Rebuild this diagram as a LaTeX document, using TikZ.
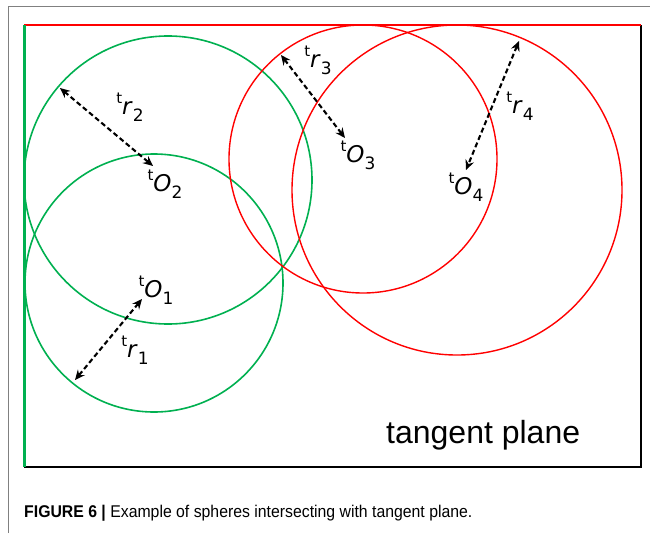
\documentclass[tikz,border=0pt]{standalone}
\usepackage{fontspec}
\usetikzlibrary{arrows.meta}
\newfontfamily\sansfont{Liberation Sans}
\newfontfamily\labelfont{DejaVu Sans}
\newcommand\tlab[2]{\raisebox{0.5em}{\fontsize{15}{15}\selectfont t}\textit{#1}\raisebox{-0.28em}{\fontsize{17}{17}\selectfont #2}}
\definecolor{spheregreen}{RGB}{0,176,80}
\definecolor{framegray}{RGB}{128,128,128}
\begin{document}
\begin{tikzpicture}[x=1pt, y=-1pt, >={Stealth[length=10pt, width=9pt, inset=3.5pt]},
		greensphere/.style={draw=spheregreen, line width=1.6pt},
		redsphere/.style={draw=red, line width=1.4pt},
		rarrow/.style={<->, dash pattern=on 5pt off 3pt, line width=2.1pt},
		lbl/.style={font=\labelfont\fontsize{23}{26}\selectfont}]
	\useasboundingbox (0,0) rectangle (650,533);
	% page frame
	\draw[framegray, line width=1pt] (8,533) -- (8,6) -- (650,6);
	% tangent plane
	\draw[black, line width=2.2pt] (24,467) -- (641,467) -- (641,25);
	\draw[red, line width=2pt] (24,25) -- (641,25);
	\draw[spheregreen, line width=3pt] (24,25) -- (24,467);
	% sphere centres
	\coordinate (O1) at (154,283);
	\coordinate (O2) at (168,180);
	\coordinate (O3) at (363,159);
	\coordinate (O4) at (457,190);
	\draw[greensphere] (O1) circle (129);
	\draw[greensphere] (O2) circle (144);
	\draw[redsphere] (O3) circle (134);
	\draw[redsphere] (O4) circle (165);
	% radii
	\coordinate (r1a) at (142,299);
	\coordinate (r1b) at (75,380);
	\coordinate (r2a) at (60,88);
	\coordinate (r2b) at (153,166);
	\coordinate (r3a) at (281,55);
	\coordinate (r3b) at (345,138);
	\coordinate (r4a) at (519,41);
	\coordinate (r4b) at (466,170);
	\draw[rarrow] (r1a) -- (r1b);
	\draw[rarrow] (r2a) -- (r2b);
	\draw[rarrow] (r3a) -- (r3b);
	\draw[rarrow] (r4a) -- (r4b);
	\node[lbl] (lr1) at (135,350) {\tlab{r}{1}};
	\node[lbl] (lr2) at (130,107) {\tlab{r}{2}};
	\node[lbl] (lr3) at (318,60) {\tlab{r}{3}};
	\node[lbl] (lr4) at (520,106) {\tlab{r}{4}};
	\node[lbl] (lO1) at (156,290) {\tlab{O}{1}};
	\node[lbl] (lO2) at (165,184) {\tlab{O}{2}};
	\node[lbl] (lO3) at (358,155) {\tlab{O}{3}};
	\node[lbl] (lO4) at (466,187) {\tlab{O}{4}};
	\node[anchor=base west, inner sep=0pt, font=\sansfont\fontsize{32}{36}\selectfont] (plane) at (386,443) {tangent plane};
	\node[anchor=base west, inner sep=0pt, font=\sansfont\fontsize{17}{20}\selectfont] (caption) at (24,517)
		{\scalebox{0.93}[1]{\textbf{FIGURE 6 |} Example of spheres intersecting with tangent plane.}};
\end{tikzpicture}
\end{document}
